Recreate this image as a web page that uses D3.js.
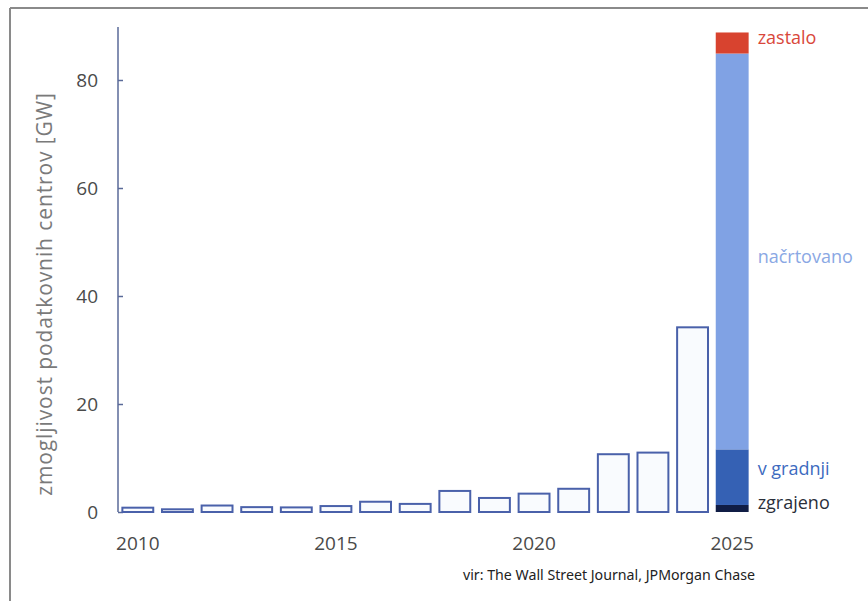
<!DOCTYPE html>
<html>
<head>
<meta charset="utf-8">
<script src="https://cdn.jsdelivr.net/npm/d3@7/dist/d3.min.js"></script>
<style>
  body { margin: 0; background: #fff; }
  svg { display: block; font-family: "Open Sans", sans-serif; }
</style>
</head>
<body>
<svg id="chart" width="868" height="601"></svg>
<script>
// data (GW)
const years = [2010, 2011, 2012, 2013, 2014, 2015, 2016, 2017, 2018, 2019, 2020, 2021, 2022, 2023, 2024, 2025];
const capacity = [0.8, 0.5, 1.2, 0.9, 0.85, 1.1, 1.9, 1.5, 3.9, 2.6, 3.4, 4.3, 10.7, 11.0, 34.2];
const stackKeys = ["zgrajeno", "v gradnji", "načrtovano", "zastalo"];
const stackValues = [1.3, 10.3, 73.3, 3.9];
const stackColors = ["#101d45", "#3561b4", "#80a2e4", "#d8432f"];
const labelColors = ["#2a2f3a", "#3d6bc0", "#8aa8e4", "#d9473b"];
const yTicks = [0, 20, 40, 60, 80];
const xTickLabels = [2010, 2015, 2020, 2025];

const svg = d3.select("#chart");

// frame
svg.append("line").attr("x1", 10).attr("x2", 868).attr("y1", 8).attr("y2", 8)
  .attr("stroke", "#8a8a8a").attr("stroke-width", 2);
svg.append("line").attr("x1", 10).attr("x2", 10).attr("y1", 8).attr("y2", 601)
  .attr("stroke", "#8a8a8a").attr("stroke-width", 2);

const x = d3.scaleBand()
  .domain(years)
  .range([118, 752])
  .paddingInner(0.17)
  .paddingOuter(0.085);

const y = d3.scaleLinear()
  .domain([0, 80])
  .range([512, 80]);

// y axis
const yAxis = svg.append("g")
  .attr("transform", "translate(118,0)")
  .call(d3.axisRight(y).tickValues(yTicks).tickSize(5).tickFormat(""));
yAxis.select(".domain").attr("d", `M0,${y(0)}V27`).attr("stroke", "#5a6a98").attr("stroke-width", 1.5);
yAxis.selectAll(".tick line").attr("stroke", "#5a6a98").attr("stroke-width", 1.5);

svg.append("g").selectAll("text")
  .data(yTicks).enter().append("text")
  .attr("x", 98)
  .attr("y", d => y(d))
  .attr("dy", "0.35em")
  .attr("text-anchor", "end")
  .attr("font-size", 19)
  .attr("fill", "#4a4a4a")
  .text(d => d);

// y axis title
svg.append("text")
  .attr("transform", "translate(52,294) rotate(-90)")
  .attr("text-anchor", "middle")
  .attr("font-size", 21)
  .attr("letter-spacing", 0.9)
  .attr("fill", "#7a7a7a")
  .text("zmogljivost podatkovnih centrov [GW]");

// x labels
svg.append("g").selectAll("text")
  .data(xTickLabels).enter().append("text")
  .attr("x", d => x(d) + x.bandwidth() / 2)
  .attr("y", 550)
  .attr("text-anchor", "middle")
  .attr("font-size", 19)
  .attr("fill", "#4a4a4a")
  .text(d => d);

// outline bars
svg.append("g").selectAll("rect")
  .data(capacity).enter().append("rect")
  .attr("x", (d, i) => x(years[i]) + 1)
  .attr("y", d => y(d))
  .attr("width", x.bandwidth() - 2)
  .attr("height", d => y(0) - y(d))
  .attr("fill", "#f9fbfe")
  .attr("stroke", "#4a61aa")
  .attr("stroke-width", 2);

// stacked 2025 bar
let cum = 0;
const stackData = stackValues.map((v, i) => {
  const d = { key: stackKeys[i], y0: cum, y1: cum + v, color: stackColors[i], label: labelColors[i] };
  cum += v;
  return d;
});

svg.append("g").selectAll("rect")
  .data(stackData).enter().append("rect")
  .attr("x", x(2025))
  .attr("y", d => y(d.y1))
  .attr("width", x.bandwidth())
  .attr("height", d => y(d.y0) - y(d.y1))
  .attr("fill", d => d.color);

// stack labels
const labelY = { "zgrajeno": 503, "v gradnji": 469, "načrtovano": 257, "zastalo": 38 };
svg.append("g").selectAll("text")
  .data(stackData).enter().append("text")
  .attr("x", x(2025) + x.bandwidth() + 9)
  .attr("y", d => labelY[d.key])
  .attr("dy", "0.35em")
  .attr("font-size", 18)
  .attr("fill", d => d.label)
  .text(d => d.key);

// source
svg.append("text")
  .attr("x", 463)
  .attr("y", 580)
  .attr("font-size", 14.2)
  .attr("fill", "#222")
  .attr("font-family", "'Noto Sans', sans-serif")
  .text("vir: The Wall Street Journal, JPMorgan Chase");
</script>
</body>
</html>
